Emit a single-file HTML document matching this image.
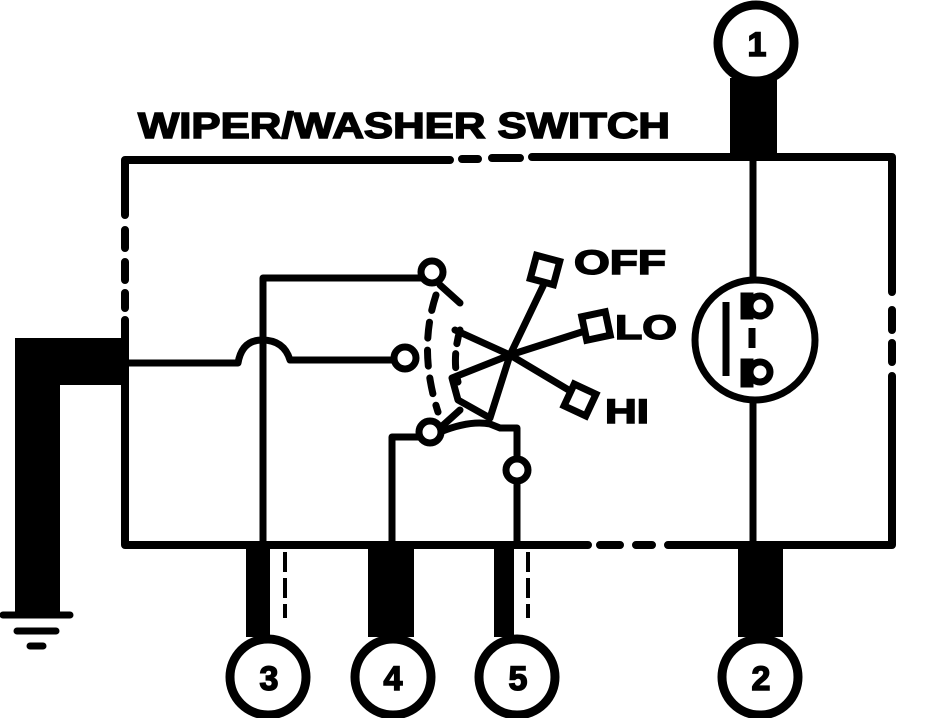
<!DOCTYPE html>
<html><head><meta charset="utf-8"><style>
html,body{margin:0;padding:0;background:#fff;}
svg{display:block;}
text{font-family:"Liberation Sans",sans-serif;font-weight:bold;fill:#000;stroke:#000;stroke-width:1.5;}
</style></head><body>
<svg width="928" height="718" viewBox="0 0 928 718" xmlns="http://www.w3.org/2000/svg">
<g fill="none" stroke="#000" stroke-width="8" stroke-linecap="round" stroke-linejoin="round">
<path d="M125 215 V160 H450"/>
<path d="M462 159 H478 M492 158 H520"/>
<path d="M532 157 H892 V292"/>
<path d="M892 310 V330 M892 343 V362"/>
<path d="M892 376 V545 H668"/>
<path d="M652 545 H636 M620 545 H600"/>
<path d="M588 545 H125 V320"/>
<path d="M125 230 V248 M125 262 V280 M125 293 V308"/>
<path d="M125 363 H238 Q242 340 262 340 Q284 340 290 360 H395" stroke-width="7"/>
<path d="M263 545 V278 H422" stroke-width="7"/>
<path d="M392 545 V437 H420" stroke-width="7"/>
<path d="M517 545 V482" stroke-width="7"/>
<path d="M517 459 V428 H500 L490 424 Q470 420 440 432" stroke-width="7"/>
<path d="M753 160 V278 M753 402 V545" stroke-width="7"/>
<path d="M436 295 Q418 350 438 412" stroke-dasharray="16 12" stroke-width="7"/>
<path d="M460 330 Q452 358 458 382" stroke-dasharray="14 10" stroke-width="7"/>
<g stroke-width="7">
<path d="M510 355 L545 282"/>
<path d="M510 355 L588 330"/>
<path d="M510 355 L572 392"/>
<path d="M510 355 L455 330"/>
<path d="M510 355 L452 378 L458 400 L490 418 L510 355"/>
<path d="M440 285 L460 303"/>
<path d="M440 428 L460 410"/>
</g>
</g>
<g fill="#fff" stroke="#000" stroke-width="7">
<circle cx="432" cy="272" r="11"/>
<circle cx="405" cy="358" r="11"/>
<circle cx="430" cy="432" r="11"/>
<circle cx="517" cy="470" r="11"/>
<rect x="533" y="258" width="24" height="24" transform="rotate(15 545 270)"/>
<rect x="584" y="314" width="24" height="24" transform="rotate(-12 596 326)"/>
<rect x="568" y="388" width="24" height="24" transform="rotate(25 580 400)"/>
<circle cx="755" cy="340" r="60"/>
</g>
<g stroke="#000" stroke-width="7" fill="none">
<path d="M726 302 V376"/>
<path d="M752 328 V348"/>
<circle cx="760" cy="306" r="10" fill="#fff"/>
<circle cx="760" cy="372" r="10" fill="#fff"/>
<path d="M744 296 H750 V316 H744 Z M744 362 H750 V384 H744 Z" fill="#000"/>
</g>
<path d="M15 338 H125 V385 H60 V612 H15 Z" fill="#000"/>
<g stroke="#000" stroke-width="7" stroke-linecap="round">
<path d="M3 615 H70"/><path d="M17 631 H56"/><path d="M30 646 H43"/>
</g>
<g fill="#000">
<rect x="730" y="78" width="47" height="82"/>
<rect x="246" y="545" width="24" height="92"/>
<rect x="368" y="545" width="46" height="92"/>
<rect x="494" y="545" width="20" height="92"/>
<rect x="738" y="545" width="45" height="92"/>
</g>
<g stroke="#000" stroke-width="4" stroke-dasharray="20 6" fill="none">
<path d="M285 552 V618"/><path d="M528 552 V618"/>
</g>
<g fill="#fff" stroke="#000" stroke-width="9">
<circle cx="756" cy="43" r="38"/>
<circle cx="268" cy="677" r="38"/>
<circle cx="393" cy="677" r="38"/>
<circle cx="517" cy="677" r="38"/>
<circle cx="760" cy="677" r="38"/>
</g>
<g font-size="34" text-anchor="middle">
<text x="757" y="56">1</text>
<text x="269" y="690">3</text>
<text x="393" y="690">4</text>
<text x="518" y="690">5</text>
<text x="761" y="690">2</text>
</g>
<text x="138" y="138" font-size="36" textLength="532" lengthAdjust="spacingAndGlyphs">WIPER/WASHER SWITCH</text>
<text x="574" y="274" font-size="34" textLength="92" lengthAdjust="spacingAndGlyphs">OFF</text>
<text x="615" y="339" font-size="34" textLength="62" lengthAdjust="spacingAndGlyphs">LO</text>
<text x="605" y="423" font-size="34" textLength="44" lengthAdjust="spacingAndGlyphs">HI</text>
</svg>
</body></html>
